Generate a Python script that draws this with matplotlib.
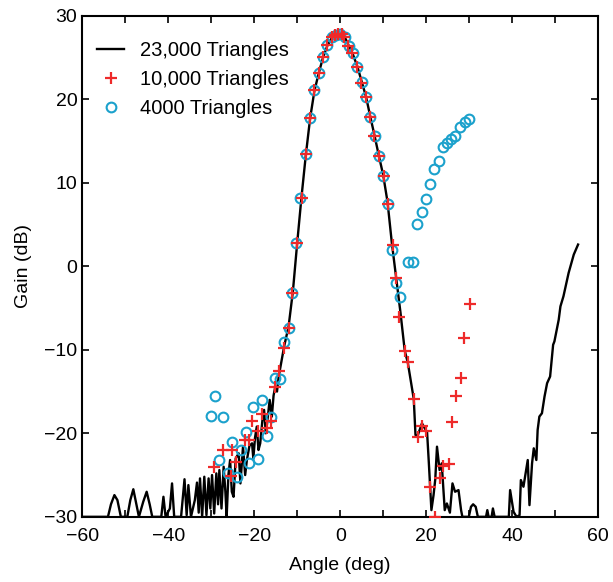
import numpy as np
import matplotlib
matplotlib.use("Agg")
import matplotlib.pyplot as plt
from matplotlib.ticker import MultipleLocator

plt.rcParams["font.family"] = ["Liberation Sans", "DejaVu Sans"]

# ---------------------------------------------------------------
# DATA
# ---------------------------------------------------------------
# 23,000 triangles - continuous pattern
angle_23k = [
    -60.0, -54.0, -53.3, -52.5, -51.8, -51.0, -49.5, -48.8, -48.1, -47.4,
    -46.8, -45.8, -45.0, -44.3, -43.7, -41.6, -41.1, -40.6, -39.6, -39.1,
    -38.6, -37.0, -36.2, -35.7, -35.3, -34.7, -33.8, -33.3, -32.9, -32.6,
    -32.1, -31.6, -31.1, -30.6, -30.2, -29.8, -29.3, -28.8, -28.4, -28.1,
    -27.6, -27.1, -26.7, -26.4, -26.0, -25.6, -25.2, -24.8, -24.3, -23.6,
    -23.2, -22.6, -22.1, -21.7, -21.1, -20.5, -20.2, -19.8, -19.4, -19.0,
    -18.6, -18.1, -17.7, -17.3, -17.0, -16.4, -15.9, -15.5, -15.1, -14.7,
    -14.3, -13.6, -13.0, -12.0, -11.0, -10.0, -9.0, -8.0, -7.0, -6.0,
    -5.0, -4.0, -3.0, -2.0, -1.0, 0.0, 1.0, 2.0, 3.0, 4.0,
    5.0, 6.0, 7.0, 8.0, 9.0, 10.0, 11.0, 12.0, 13.0, 14.0,
    15.0, 15.7, 17.1, 17.5, 18.0, 19.0, 20.2, 20.6, 21.2, 21.7,
    22.1, 22.5, 23.1, 23.6, 24.3, 24.8, 25.5, 26.1, 26.7, 27.5,
    28.1, 28.4, 29.9, 30.4, 30.9, 31.5, 32.0, 33.9, 34.2, 34.5,
    35.2, 35.5, 35.9, 39.2, 39.5, 40.3, 41.0, 41.7, 42.0, 42.6,
    43.6, 44.0, 44.6, 45.0, 45.6, 45.9, 46.3, 46.9, 47.5, 48.1,
    48.8, 49.5, 49.8, 50.8, 51.2, 51.9, 53.1, 54.3, 55.3,
]
gain_23k = [
    -30.0, -30.0, -28.5, -27.4, -28.0, -30.0, -30.0, -28.0, -26.7, -28.5,
    -30.0, -28.2, -27.0, -28.5, -30.0, -30.0, -27.6, -30.0, -29.0, -26.0,
    -30.0, -30.0, -25.5, -29.8, -26.2, -30.0, -28.0, -25.9, -29.5, -25.4,
    -30.0, -25.2, -29.8, -25.4, -29.0, -25.0, -29.6, -24.8, -28.5, -24.4,
    -29.0, -24.0, -27.0, -30.0, -25.0, -23.2, -27.0, -27.6, -23.0, -22.4,
    -26.0, -21.6, -25.0, -23.2, -21.5, -21.2, -23.0, -20.5, -19.2, -22.0,
    -21.2, -18.5, -17.2, -20.0, -18.8, -16.0, -18.0, -15.5, -14.4, -15.0,
    -13.2, -11.2, -9.5, -7.2, -3.0, 2.8, 8.3, 13.3, 17.7, 21.0,
    23.1, 25.0, 26.4, 27.3, 27.7, 27.8, 27.5, 26.4, 25.3, 23.9,
    22.1, 20.3, 17.9, 15.6, 13.2, 10.9, 7.7, 2.8, -1.4, -5.5,
    -10.1, -11.5, -15.9, -20.2, -20.3, -18.8, -19.9, -23.5, -29.2, -27.4,
    -25.5, -21.6, -24.4, -23.6, -29.2, -28.4, -29.5, -26.0, -27.0, -26.8,
    -29.2, -30.0, -30.0, -28.8, -28.5, -28.8, -30.0, -30.0, -29.2, -30.0,
    -30.0, -29.0, -30.0, -30.0, -26.8, -29.4, -30.0, -29.8, -25.6, -26.4,
    -23.2, -28.6, -23.6, -21.8, -23.2, -19.6, -18.0, -17.6, -15.6, -14.0,
    -13.2, -9.4, -9.0, -6.4, -4.8, -3.6, -0.8, 1.4, 2.6,
]

# 10,000 triangles - sampled points
angle_10k = [
    -29.4, -27.3, -25.4, -25.2, -24.2, -22.1, -21.2, -20.4, -19.0, -18.2,
    -17.0, -16.1, -15.1, -14.3, -13.0, -12.0, -11.1, -10.1, -9.0, -8.0,
    -7.0, -6.0, -4.9, -4.0, -3.1, -1.9, -1.1, -0.4, 0.4, 0.9,
    1.7, 2.7, 3.8, 4.9, 6.0, 7.0, 7.9, 9.0, 10.1, 11.1,
    12.3, 13.0, 13.7, 15.0, 15.7, 17.1, 18.1, 19.1, 20.0, 20.9,
    22.1, 23.3, 24.0, 25.2, 26.1, 27.0, 28.1, 28.8, 30.2,
]
gain_10k = [
    -24.0, -22.0, -25.1, -22.0, -23.4, -20.8, -20.8, -18.5, -19.7, -17.7,
    -19.4, -18.5, -14.5, -12.6, -9.8, -7.4, -3.2, 2.8, 8.2, 13.4,
    17.8, 21.1, 23.2, 25.1, 26.5, 27.4, 27.7, 27.8, 27.8, 27.5,
    26.4, 25.5, 23.9, 22.0, 20.3, 17.9, 15.6, 13.2, 10.8, 7.5,
    2.6, -1.4, -6.1, -10.1, -11.5, -15.9, -20.5, -19.1, -19.7, -26.4,
    -30.0, -25.3, -23.9, -23.7, -18.7, -15.5, -13.4, -8.6, -4.5,
]

# 4000 triangles - sampled points
angle_4k = [
    -30.1, -29.2, -28.1, -27.2, -26.0, -25.2, -24.0, -23.0, -22.0, -21.1,
    -20.3, -19.1, -18.1, -17.0, -16.1, -15.1, -14.0, -13.0, -12.0, -11.1,
    -10.2, -9.3, -8.0, -7.0, -6.0, -4.9, -4.0, -3.0, -2.0, -1.0,
    0.0, 1.0, 2.0, 3.0, 4.0, 5.0, 6.0, 7.0, 8.0, 9.0,
    10.0, 11.0, 12.0, 13.0, 14.0, 15.7, 17.0, 17.8, 19.0, 19.9,
    20.9, 21.9, 23.0, 23.8, 24.8, 25.7, 26.7, 27.9, 28.9, 30.0,
]
gain_4k = [
    -17.9, -15.5, -23.2, -18.1, -24.8, -21.1, -25.2, -22.0, -19.8, -23.6,
    -16.9, -23.1, -16.0, -20.3, -18.0, -13.4, -13.5, -9.1, -7.4, -3.2,
    2.8, 8.2, 13.4, 17.8, 21.1, 23.2, 25.1, 26.5, 27.4, 27.7,
    27.8, 27.5, 26.4, 25.5, 23.9, 22.1, 20.3, 17.9, 15.6, 13.2,
    10.8, 7.5, 2.0, -2.0, -3.7, 0.5, 0.5, 5.1, 6.5, 8.0,
    9.8, 11.7, 12.6, 14.3, 14.8, 15.2, 15.6, 16.7, 17.3, 17.6,
]

# ---------------------------------------------------------------
# PLOT
# ---------------------------------------------------------------
fig = plt.figure(figsize=(6.13, 5.82), dpi=100)
ax = fig.add_axes([0.134, 0.112, 0.842, 0.861])

line23, = ax.plot(angle_23k, gain_23k, color="black", lw=1.7, zorder=2,
                  label="23,000 Triangles")
circ4, = ax.plot(angle_4k, gain_4k, ls="none", marker="o", ms=7, mfc="none",
                 mec="#1ba1cc", mew=1.5, zorder=3, label="4000 Triangles")
plus10, = ax.plot(angle_10k, gain_10k, ls="none", marker="+", ms=9,
                  mec="#ee2a2a", mew=1.6, zorder=4, label="10,000 Triangles")

ax.set_xlim(-60, 60)
ax.set_ylim(-30, 30)
ax.xaxis.set_major_locator(MultipleLocator(20))
ax.xaxis.set_minor_locator(MultipleLocator(10))
ax.yaxis.set_major_locator(MultipleLocator(10))

ax.tick_params(which="both", direction="in", top=True, right=True,
               length=5, width=1.2, labelsize=14)
ax.tick_params(axis="x", pad=8)
for sp in ax.spines.values():
    sp.set_linewidth(1.5)

ax.set_xlabel("Angle (deg)", fontsize=14, labelpad=9)
ax.set_ylabel("Gain (dB)", fontsize=14, labelpad=9)

ax.legend(handles=[line23, plus10, circ4], loc="upper left", frameon=False,
          fontsize=14.5, handlelength=1.3, handletextpad=0.8,
          labelspacing=0.5, borderaxespad=0.0, bbox_to_anchor=(0.014, 0.965))

fig.savefig("out.png", dpi=100)
